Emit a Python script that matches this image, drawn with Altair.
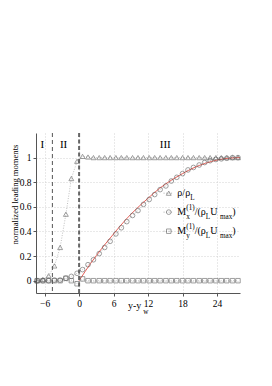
import altair as alt
import pandas as pd

FONT = "Liberation Serif"

# ---- data ----
xs = [-7.3, -6.3, -5.3, -4.3, -3.3, -2.3, -1.35, -0.35, 0.6, 1.55, 2.5, 3.5, 4.45, 5.4,
      6.4, 7.35, 8.3, 9.3, 10.25, 11.2, 12.2, 13.15, 14.1, 15.1, 16.05, 17.0, 18.0,
      18.95, 19.9, 20.9, 21.85, 22.8, 23.8, 24.75, 25.7, 26.7, 27.65]
rho = [0.0, 0.01, 0.04, 0.12, 0.27, 0.54, 0.83, 0.97, 1.01, 1.005,
       1.0, 1.0, 1.0, 1.0, 1.0, 1.0, 1.0, 1.0, 1.0, 1.0, 1.0, 1.0, 1.0, 1.0, 1.0, 1.0, 1.0,
       1.0, 1.0, 1.0, 1.0, 1.0, 1.0, 1.0, 1.0, 1.0, 1.0]
mx = [0.0, 0.0, 0.0, 0.005, 0.005, 0.02, 0.035, 0.06, 0.09, 0.13, 0.17, 0.22, 0.27, 0.32,
      0.38, 0.43, 0.48, 0.53, 0.57, 0.62, 0.66, 0.70, 0.74, 0.77, 0.81, 0.84, 0.87, 0.90,
      0.92, 0.94, 0.96, 0.975, 0.985, 0.99, 0.995, 1.0, 1.0]
my = [0.0, 0.0, 0.0, 0.0, 0.0, 0.02, 0.0, -0.025, 0.015, 0.0,
      0.0, 0.0, 0.0, 0.0, 0.0, 0.0, 0.0, 0.0, 0.0, 0.0, 0.0, 0.0, 0.0, 0.0, 0.0, 0.0, 0.0,
      0.0, 0.0, 0.0, 0.0, 0.0, 0.0, 0.0, 0.0, 0.0, 0.0]
fit_x = [0, 2, 4, 6, 8, 10, 12, 14, 16, 18, 20, 22, 24, 26, 28]
fit_y = [0, 0.14, 0.265, 0.38, 0.49, 0.585, 0.67, 0.75, 0.815, 0.87, 0.918, 0.954, 0.98, 0.995, 1.0]

series_names = ["rho", "mx", "my"]
series_shapes = ["triangle-up", "circle", "square"]
series_sizes = [24, 20, 15]
region_labels = ["I", "II", "III"]
region_x = [-6.4, -2.7, 15.0]
region_y = [1.1, 1.1, 1.1]
divider_x = [-4.65, 0.0]
x_ticks = [-6, 0, 6, 12, 18, 24]
y_ticks = [0, 0.2, 0.4, 0.6, 0.8, 1.0]

legend_x = 17.1
legend_sym_x = 15.6
legend_line_x = [14.7, 16.4]
legend_y = [0.711, 0.557, 0.402]

XD = [-7.5, 28]
YD = [-0.1, 1.2]
xsc = alt.Scale(domain=XD, nice=False, zero=False)
ysc = alt.Scale(domain=YD, nice=False, zero=False)

XAXIS = alt.Axis(values=x_ticks, title=None, grid=True, labelOverlap=False)
YAXIS = alt.Axis(values=y_ticks, format=".1~f", tickCount=6,
                 title="normalized leading moments",
                 titleX=-22, titleY=61, titleBaseline="middle",
                 titleAngle=-90, titleFontSize=8.6,
                 grid=True, labelOverlap=False, labelSeparation=0)


def X(f="x:Q"):
    return alt.X(f, scale=xsc, axis=XAXIS)


def Y(f="v:Q"):
    return alt.Y(f, scale=ysc, axis=YAXIS)


rows = []
for name, vals in zip(series_names, [rho, mx, my]):
    for x, v in zip(xs, vals):
        rows.append({"x": x, "v": v, "s": name})
df = pd.DataFrame(rows)

base = alt.Chart(df)
conn = base.mark_line(color="#b0b0b0", strokeWidth=0.8, strokeDash=[1, 1.5]).encode(
    x=X(), y=Y(), detail="s:N")

shape_enc = alt.Shape("s:N", scale=alt.Scale(domain=series_names, range=series_shapes), legend=None)
size_enc = alt.Size("s:N", scale=alt.Scale(domain=series_names, range=series_sizes), legend=None)

pts = base.mark_point(filled=False, strokeWidth=0.8, color="#555555").encode(
    x=X(), y=Y(), shape=shape_enc, size=size_enc)

fit = alt.Chart(pd.DataFrame({"x": fit_x, "v": fit_y})).mark_line(
    color="#e8625a", strokeWidth=1, interpolate="monotone").encode(x=X(), y=Y())

div_df = pd.DataFrame({"x": divider_x})
div1 = alt.Chart(div_df.iloc[[0]]).mark_rule(color="#555555", strokeWidth=1, strokeDash=[4, 3]).encode(
    x=X(), y=alt.value(0), y2=alt.value(160))
div2 = alt.Chart(div_df.iloc[[1]]).mark_rule(color="#666666", strokeWidth=2, strokeDash=[4, 2.5]).encode(
    x=X(), y=alt.value(0), y2=alt.value(160))

reg = alt.Chart(pd.DataFrame({"x": region_x, "v": region_y, "t": region_labels})).mark_text(
    font=FONT, fontSize=11, color="black").encode(x=X(), y=Y(), text="t:N")

# ---- hand-built legend ----
leg_lines = alt.Chart(pd.DataFrame({"x": [legend_line_x[0]] * 3, "x2": [legend_line_x[1]] * 3,
                                    "v": legend_y})).mark_rule(
    color="#999999", strokeWidth=0.8, strokeDash=[1, 1.5]).encode(x=X(), x2="x2:Q", y=Y())
leg_pts = alt.Chart(pd.DataFrame({"x": [legend_sym_x] * 3, "v": legend_y, "s": series_names})).mark_point(
    filled=False, strokeWidth=0.8, color="#555555").encode(
    x=X(), y=Y(), shape=shape_enc, size=size_enc)

W = {"ρ": 0.5, "/": 0.278, "L": 0.611, "M": 0.889, "(": 0.333, ")": 0.333, "1": 0.5,
     "x": 0.5, "y": 0.5, "U": 0.722, "m": 0.778, "a": 0.444, " ": 0.25, "-": 0.333, "w": 0.722}
MAIN, SMALL = 10, 7.2


def tw(s, size):
    return sum(W.get(c, 0.5) for c in s) * size


def rich(frags, x, y):
    layers = []
    dx = 0.0
    for f in frags:
        if f[1] == "supsub":
            adv = max(tw(f[0], SMALL), tw(f[2], SMALL))
            layers.append((f[0], dx, -4.5, SMALL))
            layers.append((f[2], dx, 4.5, SMALL))
            dx += adv
        else:
            t, kind = f
            size = MAIN if kind == "n" else SMALL
            dy = 0 if kind == "n" else (4.5 if kind == "sub" else -4.5)
            layers.append((t, dx, dy, size))
            dx += tw(t, size)
    out = []
    for t, ddx, ddy, size in layers:
        out.append(alt.Chart(pd.DataFrame({"x": [x], "v": [y], "t": [t]})).mark_text(
            font=FONT, fontSize=size, align="left", baseline="middle", color="black",
            dx=ddx, dy=ddy).encode(x=X(), y=Y(), text="t:N"))
    return out


legend_texts = []
legend_texts += rich([("ρ/ρ", "n"), ("L", "sub")], legend_x, legend_y[0])
legend_texts += rich([("M", "n"), ("(1)", "supsub", "x"), ("/(ρ", "n"), ("L", "sub"),
                      (" U", "n"), ("max", "sub"), (")", "n")], legend_x, legend_y[1])
legend_texts += rich([("M", "n"), ("(1)", "supsub", "y"), ("/(ρ", "n"), ("L", "sub"),
                      (" U", "n"), ("max", "sub"), (")", "n")], legend_x, legend_y[2])

# x-axis title y-y_w
xtitle = []
for t, ddx, ddy, size in [("y-y", 0, 13, MAIN), ("w", tw("y-y", MAIN) + 2, 19, SMALL)]:
    xtitle.append(alt.Chart(pd.DataFrame({"x": [8.5], "v": [YD[0]], "t": [t]})).mark_text(
        font=FONT, fontSize=size, align="left", baseline="middle", color="black",
        dx=ddx, dy=ddy).encode(x=X(), y=Y(), text="t:N"))

chart = alt.layer(conn, fit, div1, div2, pts, reg, leg_lines, leg_pts, *legend_texts, *xtitle).properties(
    width=204, height=160,
    autosize=alt.AutoSizeParams(type="none"),
    padding={"left": 28, "top": 125, "right": 24, "bottom": 85},
).configure_view(stroke=None).configure_axis(
    labelFont=FONT, labelFontSize=9.5, labelColor="black",
    titleFont=FONT, titleFontWeight="normal", titleColor="black",
    domainColor="#555555", tickColor="#555555", tickSize=3, labelPadding=2,
    gridColor="#c8c8c8", gridDash=[1, 2], gridWidth=0.8,
)

chart.save("out.html", embed_options={"renderer": "svg", "actions": False})
